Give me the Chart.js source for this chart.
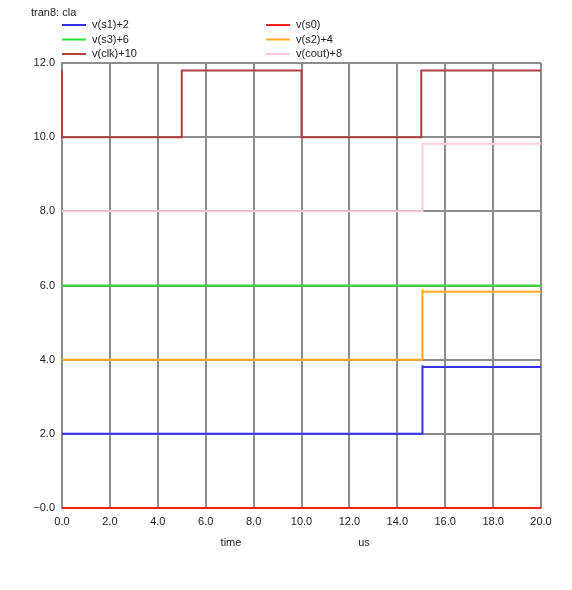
<!DOCTYPE html>
<html><head><meta charset="utf-8">
<script src="https://cdn.jsdelivr.net/npm/chart.js@4/dist/chart.umd.min.js"></script>
<style>html,body{margin:0;padding:0;background:#fff}#wrap{width:572px;height:590px}</style>
</head><body><div id="wrap"><canvas id="c" width="572" height="590"></canvas></div>
<script>
const title = 'tran8: cla';
const xTicks = [0,2,4,6,8,10,12,14,16,18,20];
const yTicks = [0,2,4,6,8,10,12];
const labels = ['v(s1)+2','v(s0)','v(s3)+6','v(s2)+4','v(clk)+10','v(cout)+8'];
const colors = ['#3333ee','#ee2222','#33dd33','#ffaa22','#b04040','#ffccd8'];
const tS1 = [0,15.05,15.05,15.05,20];  const vS1 = [2,2,3.85,3.8,3.8];
const tS0 = [0,20];                    const vS0 = [0,0];
const tS3 = [0,20];                    const vS3 = [6,6];
const tS2 = [0,15.05,15.05,15.05,20];  const vS2 = [4,4,5.9,5.83,5.83];
const tClk = [0,0,5,5,10,10,15,15,20]; const vClk = [11.8,10,10,11.8,11.8,10,10,11.8,11.8];
const tCout = [0,15.05,15.05,20];      const vCout = [8,8,9.82,9.82];
const xUnitLabels = ['time','us'];

function pts(t,v){return t.map((x,i)=>({x:x,y:v[i]}));}
const series = [[tS1,vS1],[tS0,vS0],[tS3,vS3],[tS2,vS2],[tClk,vClk],[tCout,vCout]];
const font = "'Liberation Sans', Arial, sans-serif";

const deco = {
  id:'deco',
  afterDraw(chart){
    const ctx = chart.ctx;
    ctx.save();
    ctx.fillStyle = '#222';
    ctx.font = '11px ' + font;
    ctx.textBaseline = 'middle';
    ctx.textAlign = 'left';
    ctx.fillText(title, 31, 13);
    chart.data.datasets.forEach((ds,i)=>{
      const col = i%2, row = Math.floor(i/2);
      const x0 = col===0 ? 62 : 266;
      const y = 25 + row*14.5;
      ctx.strokeStyle = ds.borderColor;
      ctx.lineWidth = 2;
      ctx.beginPath(); ctx.moveTo(x0,y); ctx.lineTo(x0+24,y); ctx.stroke();
      ctx.fillStyle = '#222';
      ctx.fillText(ds.label, x0+30, y);
    });
    ctx.textAlign = 'center';
    ctx.fillText(xUnitLabels[0], 231, 543);
    ctx.fillText(xUnitLabels[1], 364, 543);
    ctx.restore();
  }
};

new Chart(document.getElementById('c'), {
  type:'line',
  data:{datasets: labels.map((l,i)=>({label:l, data:pts(series[i][0],series[i][1]), borderColor:colors[i], backgroundColor:colors[i], borderWidth:2, pointRadius:0, tension:0, fill:false, clip:4}))},
  options:{
    responsive:false, animation:false, devicePixelRatio:1,
    layout:{padding:{left:0,top:63,right:31,bottom:0}},
    plugins:{legend:{display:false}, tooltip:{enabled:false}},
    scales:{
      x:{type:'linear', min:0, max:20,
        afterBuildTicks(s){s.ticks = xTicks.map(v=>({value:v}));},
        afterFit(s){s.height = 82;},
        grid:{color:'#8c8c8c', lineWidth:2, drawTicks:false},
        border:{color:'#8c8c8c', width:2},
        ticks:{padding:7, color:'#222', font:{family:font,size:11}, maxRotation:0, callback:v=>v.toFixed(1)}},
      y:{type:'linear', min:0, max:12,
        afterBuildTicks(s){s.ticks = yTicks.map(v=>({value:v}));},
        afterFit(s){s.width = 62;},
        grid:{color:'#8c8c8c', lineWidth:2, drawTicks:false},
        border:{color:'#8c8c8c', width:2},
        ticks:{padding:7, color:'#222', font:{family:font,size:11}, callback:v=> v===0 ? '\u22120.0' : v.toFixed(1)}}
    }
  },
  plugins:[deco]
});
</script></body></html>
